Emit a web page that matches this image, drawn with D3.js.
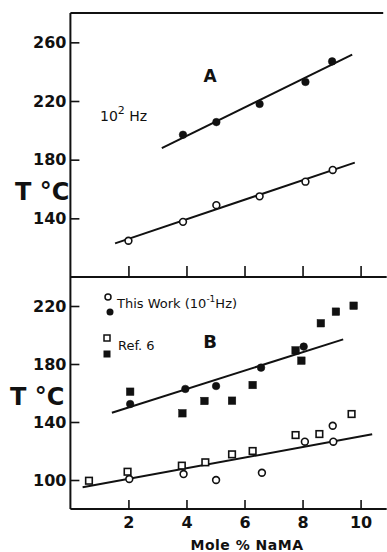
<!DOCTYPE html>
<html>
<head>
<meta charset="utf-8">
<script src="https://cdn.jsdelivr.net/npm/d3@7"></script>
<style>
  body { margin: 0; background: #fff; }
  text { font-family: "DejaVu Sans", sans-serif; fill: #111; }
</style>
</head>
<body>
<svg id="chart" width="387" height="552"></svg>
<script>
// panel A (10^2 Hz)
const molA_filled = [3.88, 5.03, 6.52, 8.10, 9.02];
const tA_filled = [197, 205.6, 218, 233, 247];
const molA_open = [2.0, 3.88, 5.03, 6.52, 8.10, 9.04];
const tA_open = [124.7, 137.6, 149, 155, 165, 173];
const fitA_filled = [[3.15, 187.8], [9.71, 251.6]];
const fitA_open = [[1.54, 122.9], [9.80, 178]];

// panel B (this work 10^-1 Hz, ref. 6)
const molB_thisFilled = [2.06, 3.96, 5.02, 6.57, 8.04];
const tB_thisFilled = [152.4, 162.8, 164.8, 177.5, 192];
const molB_thisOpen = [2.03, 3.90, 5.02, 6.60, 8.08, 9.04, 9.06];
const tB_thisOpen = [100.7, 104.1, 100, 105, 126.4, 137.4, 126.4];
const molB_refFilled = [2.06, 3.86, 4.62, 5.57, 6.28, 7.76, 7.96, 8.63, 9.15, 9.76];
const tB_refFilled = [160.9, 146, 154.5, 154.7, 165.5, 189.4, 182.3, 208.1, 216.1, 220.2];
const molB_refOpen = [0.64, 1.97, 3.84, 4.65, 5.57, 6.28, 7.76, 8.58, 9.69];
const tB_refOpen = [99.5, 105.7, 109.9, 112.2, 117.7, 120, 131, 131.7, 145.5];
const fitB_upper = [[1.43, 146.4], [9.40, 197]];
const fitB_lower = [[0.42, 95], [10.40, 131.5]];

const xTicks = [2, 4, 6, 8, 10];
const yTicksA = [140, 180, 220, 260];
const yTicksB = [100, 140, 180, 220];

const svg = d3.select("#chart");

const x = d3.scaleLinear().domain([0, 10.9]).range([70.4, 386.7]);
const yA = d3.scaleLinear().domain([100, 280]).range([277, 13]);
const yB = d3.scaleLinear().domain([80, 240]).range([509, 277]);

// frame lines
const frame = svg.append("g").attr("stroke", "#111").attr("stroke-width", 2);
frame.append("line").attr("x1", x(0)).attr("x2", x(0)).attr("y1", yA(280)).attr("y2", yB(80));
frame.append("line").attr("x1", x(0)).attr("x2", x(10.78)).attr("y1", yA(280)).attr("y2", yA(280));
frame.append("line").attr("x1", x(0)).attr("x2", x(10.9)).attr("y1", yA(100)).attr("y2", yA(100));
frame.append("line").attr("x1", x(0)).attr("x2", x(10.9)).attr("y1", yB(80)).attr("y2", yB(80));

function styleAxis(g) {
  g.select(".domain").remove();
  g.selectAll("line").attr("stroke", "#111").attr("stroke-width", 1.6);
  g.selectAll("text")
    .style("font-family", "DejaVu Sans, sans-serif")
    .style("font-size", "16px")
    .style("font-weight", "bold")
    .attr("fill", "#111");
}

// y axes
svg.append("g")
  .attr("transform", `translate(${x(0)},0)`)
  .call(d3.axisLeft(yA).tickValues(yTicksA).tickSizeInner(-9).tickSizeOuter(0).tickPadding(4))
  .call(styleAxis);
svg.append("g")
  .attr("transform", `translate(${x(0)},0)`)
  .call(d3.axisLeft(yB).tickValues(yTicksB).tickSizeInner(-9).tickSizeOuter(0).tickPadding(4))
  .call(styleAxis);

// x axes
svg.append("g")
  .attr("transform", `translate(0,${yA(100)})`)
  .call(d3.axisBottom(x).tickValues(xTicks).tickSizeInner(-11).tickSizeOuter(0).tickFormat(""))
  .call(styleAxis);
svg.append("g")
  .attr("transform", `translate(0,${yB(80)})`)
  .call(d3.axisBottom(x).tickValues(xTicks).tickSizeInner(-9).tickSizeOuter(0).tickPadding(8))
  .call(styleAxis);

// fit lines
const lineA = d3.line().x((d) => x(d[0])).y((d) => yA(d[1]));
const lineB = d3.line().x((d) => x(d[0])).y((d) => yB(d[1]));
[fitA_filled, fitA_open].forEach((f) =>
  svg.append("path").attr("d", lineA(f)).attr("fill", "none").attr("stroke", "#111").attr("stroke-width", 2));
[fitB_upper, fitB_lower].forEach((f) =>
  svg.append("path").attr("d", lineB(f)).attr("fill", "none").attr("stroke", "#111").attr("stroke-width", 2));

// markers
function circles(xs, ys, yScale, filled) {
  svg.append("g").selectAll("circle")
    .data(xs.map((v, i) => [v, ys[i]]))
    .enter()
    .append("circle")
    .attr("cx", (d) => x(d[0]))
    .attr("cy", (d) => yScale(d[1]))
    .attr("r", filled ? 3.8 : 3.4)
    .attr("fill", filled ? "#111" : "#fff")
    .attr("stroke", "#111")
    .attr("stroke-width", filled ? 0.5 : 1.6);
}
function squares(xs, ys, yScale, filled) {
  const s = filled ? 7.5 : 6.6;
  svg.append("g").selectAll("rect")
    .data(xs.map((v, i) => [v, ys[i]]))
    .enter()
    .append("rect")
    .attr("x", (d) => x(d[0]) - s / 2)
    .attr("y", (d) => yScale(d[1]) - s / 2)
    .attr("width", s)
    .attr("height", s)
    .attr("fill", filled ? "#111" : "#fff")
    .attr("stroke", "#111")
    .attr("stroke-width", filled ? 0.5 : 1.6);
}

circles(molA_filled, tA_filled, yA, true);
circles(molA_open, tA_open, yA, false);
squares(molB_refFilled, tB_refFilled, yB, true);
squares(molB_refOpen, tB_refOpen, yB, false);
circles(molB_thisFilled, tB_thisFilled, yB, true);
circles(molB_thisOpen, tB_thisOpen, yB, false);

// axis titles
svg.append("text").attr("x", 15).attr("y", 200)
  .style("font-size", "24px").style("font-weight", "bold").text("T °C");
svg.append("text").attr("x", 10).attr("y", 405)
  .style("font-size", "24px").style("font-weight", "bold").text("T °C");
svg.append("text").attr("x", 247).attr("y", 550).attr("text-anchor", "middle")
  .style("font-size", "14px").style("font-weight", "bold").style("letter-spacing", "0.5px")
  .text("Mole  %  NaMA");

// panel labels
svg.append("text").attr("x", 210).attr("y", 82).attr("text-anchor", "middle")
  .style("font-size", "17px").style("font-weight", "bold").text("A");
svg.append("text").attr("x", 210).attr("y", 348).attr("text-anchor", "middle")
  .style("font-size", "18px").style("font-weight", "bold").text("B");

const hz = svg.append("text").attr("x", 100).attr("y", 121).style("font-size", "14px");
hz.append("tspan").text("10");
hz.append("tspan").attr("dy", -7).style("font-size", "11px").text("2");
hz.append("tspan").attr("dy", 7).text(" Hz");

// legend
svg.append("circle").attr("cx", 108).attr("cy", 297).attr("r", 3)
  .attr("fill", "#fff").attr("stroke", "#111").attr("stroke-width", 1.5);
svg.append("circle").attr("cx", 110).attr("cy", 312).attr("r", 3.5).attr("fill", "#111");
svg.append("rect").attr("x", 104).attr("y", 335).attr("width", 6).attr("height", 6)
  .attr("fill", "#fff").attr("stroke", "#111").attr("stroke-width", 1.5);
svg.append("rect").attr("x", 103.5).attr("y", 350.5).attr("width", 7).attr("height", 7).attr("fill", "#111");

const tw = svg.append("text").attr("x", 117).attr("y", 308).style("font-size", "13px");
tw.append("tspan").text("This  Work (10");
tw.append("tspan").attr("dy", -6).style("font-size", "9px").text("-1");
tw.append("tspan").attr("dy", 6).text("Hz)");
svg.append("text").attr("x", 118).attr("y", 350).style("font-size", "13px").text("Ref. 6");
</script>
</body>
</html>
